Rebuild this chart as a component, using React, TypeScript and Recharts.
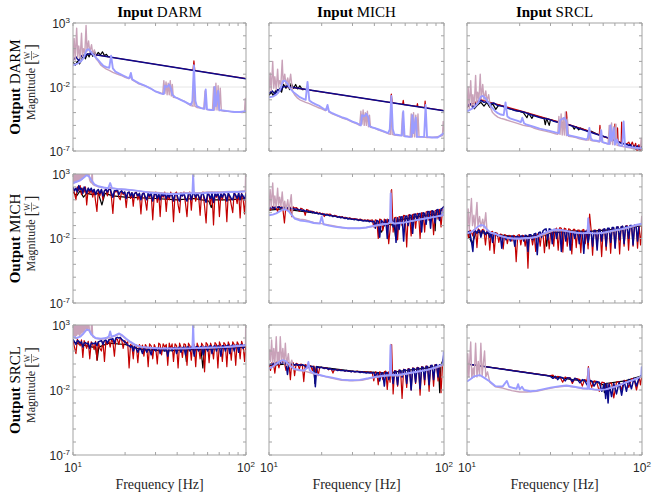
import React from 'react';
import { LineChart, Line, XAxis, YAxis, ReferenceLine } from 'recharts';

type Pt = [number, number]; // [frequency in Hz, log10 of magnitude]

// dense frequency grid used by the noisy red / navy traces (Hz)
const gridD = [
  10, 10.2, 10.4, 10.6, 10.8, 11.0, 11.2, 11.4, 11.6, 11.8,
  12.0, 12.25, 12.5, 12.75, 13.0, 13.25, 13.5, 13.75, 14.0, 14.3,
  14.6, 14.9, 15.2, 15.5, 15.8, 16.1, 16.4, 16.7, 17.0, 17.35,
  17.7, 18.05, 18.4, 18.75, 19.1, 19.5, 19.9, 20.3, 20.7, 21.1,
  21.5, 21.9, 22.3, 22.7, 23.2, 23.7, 24.2, 24.7, 25.2, 25.7,
  26.2, 26.7, 27.2, 27.7, 28.3, 28.9, 29.5, 30.1, 30.7, 31.3,
  31.9, 32.5, 33.2, 33.9, 34.6, 35.3, 36.0, 36.7, 37.4, 38.1,
  38.9, 39.7, 40.5, 41.3, 42.1, 42.9, 43.8, 44.7, 45.6, 46.5,
  47.4, 48.3, 49.2, 50.2, 51.2, 52.2, 53.2, 54.3, 55.4, 56.5,
  57.6, 58.8, 60.0, 61.2, 62.4, 63.6, 64.9, 66.2, 67.5, 68.8,
  70.2, 71.6, 73.0, 74.5, 76.0, 77.5, 79.0, 80.6, 82.2, 83.8,
  85.5, 87.2, 88.9, 90.7, 92.5, 94.3, 96.2, 98.1, 100];

const onGrid = (vals: number[]): Pt[] => gridD.map((f, i) => [f, vals[i]]);

const inputs = ['DARM', 'MICH', 'SRCL'];
const outputs = ['DARM', 'MICH', 'SRCL'];
const xTicks = [10, 20, 30, 40, 50, 60, 70, 80, 90, 100];
const yTicks = [1e-7, 1e-6, 1e-5, 1e-4, 1e-3, 1e-2, 1e-1, 1, 10, 100, 1000];

// ---------- Output DARM / Input DARM ----------
const r1c1Black: Pt[] = [[10, -0.05], [10.3, -0.3], [10.6, 0.0], [10.9, -0.2], [11.2, 0.1], [11.5, 0.5], [11.8, 0.2], [12.1, 0.6], [12.4, 0.35],
  [12.7, 0.75], [13.0, 0.4], [13.3, 0.8], [13.6, 0.45], [14.0, 0.7], [14.4, 0.5], [14.8, 0.75], [15.2, 0.45], [15.6, 0.55], [16, 0.36]];
const r1c1Red: Pt[] = [[12.4, 0.6], [49.4, -0.69], [50, 0.05], [50.6, -0.71], [100, -1.35]];
const r1c1Navy: Pt[] = [[10, 0.1], [10.4, 0.35], [10.8, 0.05], [11.2, 0.45], [11.6, 0.3], [12, 0.55], [12.4, 0.6], [100, -1.35]];
const r1c1Pink: Pt[] = [[10, 0.0], [10.15, 1.8], [10.3, 0.1], [10.5, 2.6], [10.65, 0.3], [10.8, 1.2], [11.0, 0.2], [11.2, 2.2], [11.35, 0.4],
  [11.5, 1.0], [11.7, 0.6], [11.9, 2.8], [12.05, 0.8], [12.3, 1.6], [12.5, 0.7], [12.8, 1.3], [13.0, 0.6], [13.3, 0.9], [13.6, 0.2],
  [14, 0.0], [14.5, -0.3], [15, -0.45], [15.6, -0.6], [16.2, -0.7], [17, -0.85], [18, -1.0], [19, -1.1], [20, -1.25], [21, -1.35],
  [21.5, -1.2], [22, -1.45], [23, -1.6], [24, -1.75], [26, -1.9], [28, -2.1], [30, -2.35], [32, -2.45], [33, -2.55], [33.5, -1.5],
  [34, -2.5], [34.5, -1.6], [35, -2.6], [35.5, -1.7], [36, -2.6], [36.5, -1.5], [37, -2.7], [37.5, -1.8], [38, -2.8], [40, -2.85],
  [42, -3.0], [44, -3.1], [46, -3.3], [48, -3.45], [49.4, -3.5], [50, -0.4], [50.6, -3.5], [52, -3.6], [55, -3.65], [57, -3.7],
  [58, -2.3], [59, -3.75], [62, -3.8], [64, -3.8], [65, -2.0], [66, -3.8], [67, -1.7], [68, -3.8], [69, -1.9], [70, -3.85],
  [71, -2.1], [72, -3.85], [75, -3.9], [80, -3.9], [85, -3.95], [90, -3.95], [95, -4.0], [98, -3.95], [99, -2.9], [100, -3.9]];
const r1c1Blue: Pt[] = [[10, -0.3], [10.5, -0.2], [11, -0.05], [11.5, 0.25], [12, 0.9], [12.3, 0.95], [12.7, 0.75], [13.2, 0.45], [13.8, 0.2],
  [14.4, -0.1], [15, -0.35], [15.6, -0.45], [16.2, -0.5], [16.6, 0.45], [17, -0.55], [17.6, -0.8], [18.5, -0.95], [19.5, -1.1],
  [20.5, -1.25], [21.2, -1.3], [21.6, -0.9], [22, -1.4], [23, -1.55], [24, -1.7], [26, -1.9], [28, -2.1], [30, -2.35], [32, -2.5],
  [33.5, -2.55], [34, -1.9], [35, -2.0], [36, -1.8], [37, -2.2], [37.5, -2.6], [39, -2.8], [42, -3.0], [45, -3.2], [48, -3.4],
  [49, -3.1], [50, -0.3], [51, -3.1], [52, -3.5], [55, -3.65], [57.5, -3.7], [58.5, -2.2], [59.5, -3.75], [63, -3.8], [65, -3.8],
  [66, -2.0], [67, -3.5], [69, -2.3], [70, -3.8], [75, -3.85], [80, -3.9], [86, -3.95], [92, -3.95], [100, -3.9]];

// ---------- Output DARM / Input MICH ----------
const r1c2Black: Pt[] = [[10, -2.65], [10.3, -2.4], [10.6, -2.7], [10.9, -2.3], [11.2, -2.5], [11.5, -2.1], [11.8, -2.4], [12.1, -1.8],
  [12.5, -2.1], [12.8, -1.75], [13.1, -2.2], [13.4, -1.7], [13.8, -2.1], [14.2, -1.8], [14.6, -2.15], [15, -1.9], [15.5, -2.2], [16, -2.18]];
const r1c2Red: Pt[] = [[12.4, -1.95], [49.4, -3.21], [50, -2.55], [50.6, -3.23], [58, -3.35], [58.5, -3.05], [59, -3.37], [70, -3.52],
  [70.5, -3.3], [71, -3.53], [77.5, -3.61], [78, -3.1], [78.5, -3.62], [100, -3.85]];
const r1c2Navy: Pt[] = [[10, -2.5], [10.4, -2.3], [10.8, -2.55], [11.2, -2.2], [11.6, -2.3], [12, -2.0], [12.4, -1.95], [100, -3.85]];
const r1c2Pink: Pt[] = [[10, -2.4], [10.15, -0.9], [10.3, -2.3], [10.5, 0.0], [10.65, -2.1], [10.8, -1.2], [11.0, -2.2], [11.2, -0.6],
  [11.35, -2.0], [11.5, -1.5], [11.7, -1.8], [11.9, 0.1], [12.05, -1.7], [12.3, -1.0], [12.5, -1.8], [12.8, -1.3], [13.0, -1.9],
  [13.3, -1.0], [13.6, -2.3], [14, -2.6], [14.5, -2.85], [15, -3.0], [15.6, -3.1], [16.2, -3.2], [17, -3.3], [18, -3.45], [19, -3.6],
  [20, -3.7], [21, -3.85], [21.5, -3.5], [22, -3.95], [23, -4.1], [24, -4.2], [26, -4.4], [28, -4.55], [30, -4.75], [32, -4.9],
  [33, -5.0], [33.5, -3.9], [34, -4.9], [34.5, -3.8], [35, -5.0], [35.5, -4.0], [36, -5.0], [36.5, -3.9], [37, -5.1], [37.5, -4.2],
  [38, -5.15], [40, -5.2], [42, -5.35], [44, -5.45], [46, -5.55], [48, -5.65], [49.4, -5.7], [50, -2.9], [50.6, -5.7], [52, -5.75],
  [55, -5.8], [57, -5.8], [58, -4.0], [59, -5.85], [62, -5.85], [64, -5.9], [65, -4.1], [66, -5.9], [67, -4.0], [68, -5.9], [69, -4.2],
  [70, -5.9], [71, -4.1], [72, -5.9], [75, -5.9], [80, -5.95], [85, -5.95], [90, -5.9], [95, -5.85], [98, -5.8], [99, -4.7], [100, -5.5]];
const r1c2Blue: Pt[] = [[10, -2.8], [10.5, -2.75], [11, -2.6], [11.5, -2.3], [12, -1.55], [12.3, -1.5], [12.7, -1.7], [13.2, -2.1],
  [13.8, -2.4], [14.4, -2.6], [15, -2.8], [15.6, -2.9], [16.2, -3.0], [16.6, -1.6], [17, -3.05], [17.6, -3.2], [18.5, -3.35],
  [19.5, -3.5], [20.5, -3.7], [21.2, -3.8], [21.6, -3.4], [22, -3.9], [23, -4.05], [24, -4.15], [26, -4.35], [28, -4.5], [30, -4.7],
  [32, -4.85], [33.5, -5.0], [34, -4.2], [35, -4.3], [36, -4.1], [37, -4.4], [37.5, -5.05], [39, -5.15], [42, -5.3], [45, -5.45],
  [48, -5.6], [49, -5.3], [50, -2.7], [51, -5.3], [52, -5.7], [55, -5.75], [57.5, -5.8], [58.5, -3.9], [59.5, -5.85], [63, -5.9],
  [65, -5.9], [66, -4.2], [67, -5.6], [69, -4.4], [70, -5.9], [77, -5.9], [78.5, -3.4], [80, -5.9], [86, -5.95], [92, -5.95], [100, -5.6]];

// ---------- Output DARM / Input SRCL ----------
const r1c3Black: Pt[] = [[10, -3.6], [10.5, -3.3], [11, -3.7], [11.5, -3.4], [12, -3.2], [12.5, -3.5], [13, -3.2], [13.5, -3.6], [14, -3.3],
  [14.6, -3.75], [15.2, -3.4], [16, -3.5], [18, -3.75], [20, -3.9], [21, -4.0], [22, -4.4], [22.5, -4.05], [23.5, -4.45], [24, -4.2],
  [26, -4.35], [27.5, -4.4], [28, -4.95], [28.5, -4.45], [29.5, -5.0], [30, -4.55], [33, -4.75], [37, -4.9], [40, -5.05], [41, -5.3],
  [42, -5.1], [43.5, -5.35], [44.5, -5.2], [48, -5.4], [50, -5.55], [51, -5.45], [55, -5.65], [60, -5.85], [70, -6.2], [80, -6.45]];
const r1c3Red: Pt[] = [[10, -3.5], [12, -3.0], [20, -3.85], [30, -4.55], [36.5, -4.85], [37, -3.95], [37.5, -4.9], [50, -5.45], [57, -5.75],
  [57.5, -5.0], [58, -5.8], [69.5, -6.15], [70, -4.9], [70.5, -6.15], [72, -6.2], [72.5, -5.2], [73, -6.25], [76, -6.35], [76.5, -4.75],
  [77, -6.4], [82, -6.45], [84, -6.3], [86, -6.6], [88, -6.3], [90, -6.7], [92, -6.4], [94, -7.2], [96, -6.5], [98, -7.2], [100, -6.6]];
const r1c3Navy: Pt[] = [[10, -3.5], [10.4, -3.3], [10.8, -3.6], [11.2, -3.3], [11.6, -3.2], [12, -3.05], [12.5, -3.2], [13, -3.15],
  [13.6, -3.3], [14.2, -3.25], [15, -3.45], [16, -3.5], [17, -3.65], [18, -3.75], [19, -3.85], [20, -3.9], [21.5, -4.0], [23, -4.15],
  [25, -4.3], [27, -4.45], [29, -4.5], [31, -4.65], [33, -4.75], [35, -4.85], [37, -4.9], [40, -5.05], [43, -5.2], [46, -5.35],
  [50, -5.5], [54, -5.65], [58, -5.8], [62, -5.9], [66, -6.05], [70, -6.2], [75, -6.35], [80, -6.45], [84, -6.55], [86, -6.5],
  [88, -6.8], [90, -6.6], [92, -6.85], [94, -6.6], [96, -6.9], [98, -6.6], [100, -6.85]];
const r1c3Pink: Pt[] = [[10, -3.8], [10.15, -2.0], [10.3, -3.7], [10.5, -1.5], [10.65, -3.5], [10.8, -2.6], [11.0, -3.5], [11.2, -1.1],
  [11.35, -3.3], [11.5, -2.4], [11.7, -3.0], [11.9, -1.0], [12.05, -2.9], [12.3, -1.8], [12.5, -3.0], [12.8, -2.3], [13.0, -3.1],
  [13.3, -2.6], [13.6, -3.6], [14, -4.0], [14.5, -4.2], [15, -4.35], [15.6, -4.45], [16.2, -4.5], [17, -4.6], [18, -4.7], [19, -4.8],
  [20, -4.9], [21, -5.0], [22, -5.05], [23, -5.1], [24, -5.2], [26, -5.35], [28, -5.45], [30, -5.55], [32, -5.65], [33, -5.7],
  [33.5, -4.3], [34, -5.7], [34.5, -4.1], [35, -5.75], [35.5, -4.4], [36, -5.75], [36.5, -3.95], [37, -5.8], [37.5, -4.5], [38, -5.85],
  [40, -5.9], [42, -5.95], [44, -6.05], [46, -6.1], [48, -6.15], [49.4, -6.15], [50, -5.5], [50.6, -6.15], [52, -6.2], [55, -6.25],
  [57, -6.3], [58, -5.3], [59, -6.3], [62, -6.4], [64, -6.45], [65, -5.0], [66, -6.45], [67, -4.8], [68, -6.5], [69, -5.1], [70, -6.5],
  [71, -4.9], [72, -6.55], [75, -6.6], [80, -6.7], [85, -6.75], [90, -6.8], [95, -6.85], [98, -6.8], [99, -6.0], [100, -6.6]];
const r1c3Blue: Pt[] = [[10, -3.9], [10.5, -3.75], [11, -3.6], [11.5, -3.3], [12, -2.75], [12.3, -2.7], [12.7, -2.85], [13.2, -3.2],
  [13.8, -3.55], [14.4, -3.85], [15, -4.05], [15.6, -4.15], [16.2, -4.2], [16.6, -3.2], [17, -4.3], [17.6, -4.45], [18.5, -4.55],
  [19.5, -4.65], [20.3, -4.75], [20.7, -4.4], [21.2, -4.85], [22, -4.95], [24, -5.1], [26, -5.25], [28, -5.35], [30, -5.45],
  [32, -5.55], [33.5, -5.6], [34, -4.6], [35, -4.5], [36, -4.4], [37, -4.7], [37.5, -5.75], [39, -5.8], [42, -5.9], [45, -6.0],
  [48, -6.1], [49, -6.0], [50, -5.2], [51, -6.0], [52, -6.15], [55, -6.2], [57.5, -6.25], [58.5, -5.4], [59.5, -6.3], [63, -6.4],
  [65, -6.45], [66, -5.0], [67, -6.2], [69, -5.2], [70, -6.5], [72, -6.1], [74, -6.55], [77, -6.6], [78.5, -4.7], [80, -6.65],
  [86, -6.7], [92, -6.75], [100, -6.8]];

// ---------- Output MICH / Input DARM ----------
const r2c1Black: Pt[] = [[10, 1.6], [10.5, 1.3], [11, 1.7], [11.5, 1.2], [12, 1.5], [13, 1.4], [14, 1.5], [14.7, 0.6], [15.3, 1.5],
  [17, 1.3], [20, 1.2], [30, 1.1], [40, 1.0], [50, 1.1], [61, 0.9], [63, 0.4], [65, 1.0], [80, 1.0], [100, 1.1]];
const r2c1Red = onGrid([
  1.9, 1.5, 1.0, 2.0, 1.7, 2.1, 1.4, 1.9, 1.6, 2.0,
  0.6, 1.9, 1.5, 1.8, 1.2, 1.8, 0.9, 0.1, 1.7, 1.3,
  1.8, 1.0, 1.7, 1.85, 1.3, 1.8, 1.9, 1.1, -0.05, 1.7,
  1.6, 1.75, 1.2, 1.0, 1.7, 1.4, 1.6, 0.4, 1.5, 1.6,
  1.1, 1.55, 0.5, 1.5, 1.6, 1.0, 1.5, -0.1, 1.45, 1.6,
  0.9, 0.2, 1.5, 1.2, 1.55, -0.55, 1.4, 1.6, 0.8, 1.5,
  -0.3, 1.5, 1.2, 1.6, 0.1, 1.5, 1.0, 1.6, 1.3, -0.7,
  1.5, 1.6, 0.6, 0.0, 1.55, 1.3, 1.6, 0.7, -0.3, 1.5,
  1.6, 0.2, 1.5, 1.6, 0.9, 1.55, 1.3, -0.2, 1.5, 1.6,
  0.5, -0.8, 1.55, 1.4, 0.6, 1.6, -0.95, 1.5, 1.2, 1.6,
  -0.3, 1.5, 1.0, 1.6, 1.3, -0.7, 1.55, 1.2, 0.6, 0.0,
  1.6, 1.3, 0.7, 1.6, -0.4, 1.5, 1.1, -0.1, 1.6]);
const r2c1Navy = onGrid([
  2.0, 1.7, 1.9, 1.6, 2.1, 1.8, 1.9, 1.5, 2.0, 1.8,
  1.5, 1.9, 1.7, 1.9, 1.6, 1.8, 1.4, 1.7, 1.8, 1.5,
  1.8, 1.3, 1.7, 1.8, 1.6, 1.8, 1.9, 1.5, 1.2, 1.7,
  1.7, 1.8, 1.4, 1.6, 1.7, 1.5, 1.6, 1.1, 1.55, 1.6,
  1.3, 1.55, 1.2, 1.5, 1.55, 1.3, 1.5, 1.0, 1.45, 1.5,
  1.2, 1.0, 1.5, 1.3, 1.5, 0.9, 1.4, 1.5, 1.1, 1.45,
  1.0, 1.5, 1.3, 1.5, 1.1, 1.45, 1.2, 1.5, 1.35, 0.9,
  1.45, 1.5, 1.1, 0.9, 1.5, 1.3, 1.5, 1.1, 0.9, 1.45,
  1.5, 1.0, 1.45, 1.5, 1.2, 1.5, 1.3, 1.0, 1.45, 1.5,
  1.1, 0.8, 1.5, 1.35, 1.1, 1.5, 0.8, 1.45, 1.3, 1.5,
  1.0, 1.45, 1.2, 1.5, 1.35, 0.9, 1.5, 1.3, 1.1, 1.0,
  1.5, 1.35, 1.1, 1.5, 1.0, 1.45, 1.3, 1.0, 1.5]);
const r2c1Pink: Pt[] = [[10, 2.2], [10.08, 3.5], [10.16, 2.3], [10.24, 3.5], [10.32, 2.4], [10.4, 3.5], [10.5, 2.4], [10.6, 3.5],
  [10.7, 2.5], [10.8, 3.5], [10.9, 2.5], [11.0, 3.5], [11.1, 2.6], [11.2, 3.5], [11.3, 2.6], [11.4, 3.5], [11.5, 2.7], [11.6, 3.5],
  [11.7, 2.8], [11.8, 3.5], [11.9, 2.9], [12.0, 3.5], [12.15, 2.9], [12.3, 3.5], [12.45, 2.6], [12.6, 2.4], [12.8, 2.3], [12.9, 3.5],
  [13.0, 2.2], [13.4, 2.1], [14, 2.0], [15, 1.95], [16, 1.9], [17, 1.9], [18, 1.85], [20, 1.8], [22, 1.75], [25, 1.65], [28, 1.6],
  [32, 1.55], [36, 1.5], [40, 1.5], [45, 1.55], [49.2, 1.55], [49.5, 3.5], [49.8, 1.55], [55, 1.55], [60, 1.6], [70, 1.6], [80, 1.65],
  [90, 1.65], [99, 1.7], [99.6, 3.2], [100, 1.7]];
const r2c1Blue: Pt[] = [[10, 2.3], [10.5, 2.4], [11, 2.5], [11.5, 2.7], [12, 2.92], [12.4, 2.8], [12.8, 2.5], [13.3, 2.2], [14, 2.05],
  [15, 1.95], [16, 1.9], [16.4, 2.3], [16.8, 1.9], [18, 1.85], [20, 1.8], [22, 1.75], [25, 1.65], [28, 1.55], [32, 1.5], [36, 1.45],
  [40, 1.45], [45, 1.5], [49, 1.5], [49.5, 2.9], [50, 1.5], [55, 1.5], [60, 1.55], [70, 1.55], [80, 1.6], [90, 1.6], [100, 1.65]];

// ---------- Output MICH / Input MICH ----------
const r2c2Black: Pt[] = [[10, 0.2], [12, 0.3], [20, -0.1], [30, -0.5], [40, -0.7], [44, -1.5], [46, -0.8], [52, -1.0], [53, -2.0],
  [54, -0.6], [70, -0.3], [88, -0.1], [89, -1.4], [90, 0.0], [100, 0.3]];
const r2c2Red = onGrid([
  0.4, 0.2, 0.5, 0.3, 0.45, 0.35, 0.1, 0.5, 0.4, 0.45,
  0.3, -0.8, 0.55, 0.2, 0.5, 0.4, -0.3, 0.45, 0.35, 0.4,
  0.3, 0.1, 0.35, 0.3, 0.2, -0.2, 0.25, 0.2, 0.15, 0.1,
  0.1, 0.05, 0.0, 0.05, -0.05, 0.0, -0.1, -0.05, -0.3, -0.1,
  -0.1, -0.15, -0.1, -0.2, -0.3, -0.2, -0.25, -0.3, -0.3, -0.35,
  -0.3, -0.4, -0.35, -0.4, -0.45, -0.4, -0.45, -0.5, -0.45, -0.5,
  -0.5, -0.55, -0.5, -0.55, -0.6, -0.55, -0.6, -0.55, -0.6, -0.6,
  -0.55, -1.1, -0.55, -0.6, -2.0, -0.5, -0.55, -1.4, -0.5, -0.9,
  -0.5, -2.4, -1.3, 1.8, -1.5, -0.4, -0.35, -2.1, -0.3, -0.35,
  -1.0, -0.2, -0.25, -2.65, -0.2, -0.15, -1.8, -0.15, -0.1, -1.2,
  -0.05, -0.1, -2.0, 0.0, -0.05, -1.5, 0.05, 0.1, -0.6, 0.1,
  0.15, -1.7, 0.15, 0.2, -0.5, 0.25, -1.1, 0.3, 0.5]);
const r2c2Navy = onGrid([
  0.3, 0.4, 0.35, 0.45, 0.3, 0.5, 0.4, 0.45, 0.35, 0.4,
  0.4, 0.45, 0.35, 0.4, 0.3, 0.35, 0.3, 0.35, 0.25, 0.3,
  0.25, 0.2, 0.25, 0.15, 0.2, 0.1, 0.15, 0.1, 0.05, 0.1,
  0.0, 0.05, -0.05, 0.0, -0.1, -0.05, -0.1, -0.15, -0.1, -0.2,
  -0.15, -0.2, -0.25, -0.2, -0.3, -0.25, -0.3, -0.35, -0.3, -0.4,
  -0.35, -0.4, -0.45, -0.4, -0.5, -0.45, -0.5, -0.5, -0.55, -0.5,
  -0.55, -0.6, -0.55, -0.6, -0.65, -0.6, -0.65, -0.6, -0.7, -0.65,
  -0.7, -0.65, -1.2, -0.6, -0.65, -1.9, -0.6, -0.7, -1.0, -0.55,
  -2.0, -0.55, -0.6, -0.5, -1.1, -0.45, -2.3, -0.4, -1.3, -0.35,
  -0.3, -2.2, -0.3, -0.25, -1.0, -0.2, -0.2, -1.6, -0.15, -0.1,
  -0.6, -0.1, -0.05, -1.5, 0.0, -0.05, -0.9, 0.05, 0.1, -1.2,
  0.15, 0.1, -0.8, 0.2, 0.25, -0.6, 0.3, 0.35, 0.5]);
const r2c2Pink: Pt[] = [[10, 0.3], [10.15, 1.8], [10.3, 0.4], [10.5, 2.3], [10.65, 0.5], [10.8, 1.3], [11.0, 0.4], [11.2, 1.9],
  [11.35, 0.6], [11.5, 1.2], [11.7, 0.5], [11.9, 1.6], [12.1, 0.3], [12.3, 0.9], [12.5, 0.2], [12.8, 1.0], [13.0, 0.1], [13.4, 1.4],
  [13.6, -0.2], [14, -0.4], [15, -0.5], [16, -0.55], [17, -0.65], [18, -0.75], [20, -0.85], [22, -0.95], [24, -1.05], [26, -1.15],
  [28, -1.2], [30, -1.2], [33, -1.2], [36, -1.15], [40, -1.05], [44, -0.95], [48, -0.85], [49.3, -0.8], [49.6, 1.7], [49.9, -0.8],
  [52, -0.85], [56, -0.8], [60, -0.75], [68, -0.6], [78, -0.45], [90, -0.3], [100, -0.2]];
const r2c2Blue: Pt[] = [[10, -0.2], [10.5, -0.15], [11, -0.05], [11.5, 0.1], [12, 0.25], [12.5, 0.25], [13, 0.1], [13.5, -0.2],
  [14, -0.45], [15, -0.6], [16, -0.65], [17, -0.7], [18, -0.8], [19.5, -0.85], [20, -0.3], [20.5, -0.9], [22, -1.0], [24, -1.1],
  [26, -1.15], [28, -1.2], [30, -1.2], [33, -1.2], [36, -1.15], [40, -1.0], [44, -0.9], [48, -0.85], [49.2, -0.7], [49.6, 1.5],
  [50, -0.7], [52, -0.85], [56, -0.8], [60, -0.75], [68, -0.6], [78, -0.45], [90, -0.3], [98, -0.2], [99.5, 0.3], [100, 0.2]];

// ---------- Output MICH / Input SRCL ----------
const r2c3Black: Pt[] = [[10, -1.5], [10.7, -2.4], [11.3, -1.5], [15, -1.7], [20, -1.9], [28, -1.7], [28.5, -2.6], [29, -1.6], [40, -1.4],
  [48.5, -1.45], [49.3, -2.5], [50, -1.45], [70, -1.3], [100, -1.0]];
const r2c3Red = onGrid([
  -1.4, -2.0, -1.35, -1.5, -1.8, -1.3, -1.4, -2.7, -1.25, -1.35,
  -1.6, -1.3, -1.35, -2.5, -1.4, -1.45, -2.9, -1.5, -1.45, -3.15,
  -1.55, -1.6, -2.3, -1.65, -1.7, -2.8, -1.7, -1.75, -2.4, -1.75,
  -1.8, -2.2, -1.75, -1.8, -3.8, -1.75, -1.7, -2.5, -1.75, -1.8,
  -2.6, -1.75, -4.3, -1.7, -1.75, -2.5, -1.7, -3.0, -1.65, -1.7,
  -2.6, -1.6, -1.65, -3.1, -1.55, -1.5, -2.8, -1.45, -1.4, -2.6,
  -1.3, -1.2, -2.9, -1.15, -1.2, -3.05, -1.2, -1.25, -2.6, -1.25,
  -1.3, -3.2, -1.3, -1.3, -2.7, -1.35, -1.35, -3.1, -1.35, -1.3,
  -2.4, -1.35, -2.8, -0.1, -1.35, -3.3, -1.35, -1.35, -2.6, -1.3,
  -1.3, -3.4, -1.3, -1.3, -2.9, -1.25, -1.25, -3.15, -1.2, -1.15,
  -2.7, -1.15, -1.1, -3.2, -1.1, -1.05, -2.6, -1.05, -1.0, -2.9,
  -1.0, -1.0, -2.6, -0.95, -0.95, -2.75, -0.95, -2.5, -0.95]);
const r2c3Navy = onGrid([
  -1.5, -1.45, -1.6, -2.2, -3.0, -1.4, -1.45, -1.6, -1.35, -1.4,
  -1.9, -1.4, -1.45, -1.7, -1.5, -1.55, -1.9, -1.55, -2.3, -1.6,
  -1.6, -1.8, -1.7, -1.75, -2.75, -1.8, -1.8, -2.1, -1.85, -1.85,
  -2.2, -1.8, -1.85, -2.6, -1.85, -1.85, -2.0, -1.8, -1.8, -2.2,
  -1.75, -1.8, -3.0, -1.7, -1.7, -2.1, -1.65, -1.6, -3.25, -1.55,
  -1.5, -1.9, -1.4, -1.3, -1.25, -2.1, -1.25, -1.3, -2.4, -1.3,
  -1.3, -2.0, -1.3, -1.35, -3.0, -1.35, -1.4, -2.2, -1.4, -1.45,
  -2.9, -1.45, -1.45, -2.0, -1.45, -1.45, -2.4, -1.5, -1.5, -3.15,
  -1.45, -1.45, -2.3, -1.45, -1.45, -2.6, -1.4, -1.4, -2.9, -1.35,
  -1.35, -2.2, -1.3, -1.25, -2.6, -1.2, -1.2, -2.3, -1.15, -1.15,
  -2.75, -1.1, -1.1, -2.1, -1.1, -1.05, -2.4, -1.05, -1.05, -2.0,
  -1.0, -1.0, -2.5, -1.0, -0.95, -2.2, -0.95, -0.9, -0.95]);
const r2c3Pink: Pt[] = [[10, -1.5], [10.15, 0.3], [10.3, -1.3], [10.6, 1.1], [10.75, -1.0], [10.95, -0.2], [11.1, -1.2], [11.4, 0.8],
  [11.55, -1.0], [11.8, -0.3], [12, -1.1], [12.3, -0.5], [12.5, -1.2], [12.8, 0.0], [13.0, -1.3], [13.5, -1.5], [14.5, -1.65],
  [16, -1.85], [18, -2.0], [20, -2.05], [22, -2.0], [25, -1.9], [28, -1.65], [31, -1.4], [35, -1.4], [40, -1.5], [46, -1.6],
  [49, -1.6], [49.4, -0.4], [49.8, -1.6], [55, -1.6], [62, -1.55], [70, -1.4], [80, -1.25], [90, -1.05], [99, -0.9], [99.6, -0.3], [100, -0.9]];
const r2c3Blue: Pt[] = [[10, -1.6], [10.5, -1.5], [11, -1.35], [11.5, -1.1], [12, -0.95], [12.5, -1.0], [13, -1.3], [13.6, -1.55],
  [14.5, -1.65], [15.5, -1.8], [17, -1.95], [18.5, -2.0], [20, -2.0], [21.5, -1.95], [23, -1.95], [25, -1.85], [27, -1.65], [29, -1.45],
  [32, -1.3], [35, -1.35], [38, -1.45], [42, -1.55], [46, -1.6], [48.8, -1.55], [49.3, -0.45], [49.8, -1.55], [52, -1.6], [56, -1.6],
  [60, -1.55], [65, -1.45], [70, -1.35], [77, -1.25], [85, -1.1], [92, -0.95], [100, -0.85]];

// ---------- Output SRCL / Input DARM ----------
const r3c1Black: Pt[] = [[10, 1.7], [11, 1.5], [13, 1.3], [13.5, 1.3], [13.8, 0.3], [14.1, 1.3], [16, 1.6], [20, 1.5], [25, 1.1],
  [35, 1.0], [44.5, 1.1], [45.2, 0.2], [46, 1.1], [55, 1.1], [56.3, -0.3], [57.5, 1.1], [70, 1.2], [100, 1.3]];
const r3c1Red = onGrid([
  1.8, 1.3, 0.8, 1.9, 1.6, 1.4, 1.85, 0.5, 1.8, 1.5,
  1.2, 1.75, 0.4, 1.7, 1.5, 1.1, 1.75, 0.3, 1.7, 1.2,
  1.0, 1.75, 0.2, 1.8, 1.5, 1.85, 1.3, 1.9, 1.7, 0.6,
  1.95, 1.9, 1.5, 2.0, 1.9, 1.2, 1.8, 1.6, 1.7, -0.3,
  1.5, 1.4, 0.4, 1.5, 1.45, 0.1, 1.5, 1.2, 1.45, 0.6,
  1.5, 1.3, -0.2, 1.55, 1.4, 0.4, 1.5, 1.2, 0.0, 1.6,
  1.5, 0.7, 1.55, 1.3, 1.5, -0.1, 1.6, 1.2, 1.55, 0.2,
  1.55, 1.4, -0.3, 1.6, 1.3, 0.5, 1.55, 1.5, -0.1, 1.6,
  1.4, 0.3, 1.65, 1.5, -0.2, 1.6, 1.3, 0.4, 1.6, 1.4,
  -0.6, 1.65, 1.5, 0.1, 1.6, 1.3, 0.4, 1.65, 1.5, -0.3,
  1.7, 1.4, 0.2, 1.65, 1.5, -0.2, 1.7, 1.4, 0.3, 1.7,
  1.5, -0.1, 1.7, 1.5, 0.4, 1.75, 1.4, 0.2, 1.75]);
const r3c1Navy = onGrid([
  1.9, 1.7, 1.5, 1.8, 1.75, 1.6, 1.7, 1.3, 1.6, 1.65,
  1.55, 1.6, 1.2, 1.6, 1.6, 1.55, 1.65, 1.4, 1.7, 1.75,
  1.8, 1.5, 1.8, 1.85, 1.6, 1.85, 1.9, 1.9, 1.95, 1.6,
  2.0, 2.05, 2.0, 2.05, 1.9, 1.8, 1.7, 1.6, 1.45, 1.4,
  1.3, 1.4, 1.0, 1.35, 1.2, 0.9, 1.2, 1.15, 0.8, 1.2,
  1.15, 0.9, 1.2, 1.1, 0.7, 1.2, 1.15, 1.0, 1.2, 1.25,
  0.8, 1.2, 1.2, 1.0, 1.25, 0.6, 1.25, 1.2, 1.0, 1.25,
  1.25, 0.8, 1.25, 1.3, 0.9, 1.25, 1.3, 0.7, 1.3, 1.3,
  1.0, 1.3, 1.3, 0.6, 1.3, 1.35, 1.0, 1.3, 1.35, 0.7,
  1.3, 1.35, 1.0, 1.35, 1.4, 0.8, 1.35, 1.4, 1.0, 1.4,
  1.35, 0.6, 1.4, 1.4, 1.0, 1.4, 1.45, 0.8, 1.4, 1.45,
  1.0, 1.45, 1.45, 0.9, 1.45, 1.5, 1.2, 1.45, 1.5]);
const r3c1Pink: Pt[] = [[10, 2.1], [10.08, 3.5], [10.16, 2.2], [10.24, 3.5], [10.32, 2.1], [10.4, 3.5], [10.5, 2.2], [10.6, 3.5],
  [10.7, 2.3], [10.8, 3.5], [10.9, 2.2], [11.0, 3.5], [11.1, 2.3], [11.2, 3.5], [11.3, 2.4], [11.4, 3.5], [11.5, 2.5], [11.6, 3.5],
  [11.7, 2.6], [11.8, 3.5], [11.9, 2.7], [12.0, 3.5], [12.15, 2.6], [12.3, 3.5], [12.45, 2.5], [12.7, 2.3], [12.85, 3.5], [13.0, 2.1],
  [13.6, 1.95], [14.5, 1.9], [15.5, 1.95], [16.5, 2.05], [17.5, 2.15], [18.5, 2.3], [19.3, 2.15], [20.3, 1.9], [21.5, 1.65], [23, 1.4],
  [25, 1.28], [28, 1.22], [32, 1.18], [38, 1.18], [44, 1.18], [49.1, 1.2], [49.4, 3.5], [49.7, 1.2], [56, 1.22], [65, 1.25], [75, 1.28],
  [88, 1.35], [99.3, 1.4], [99.7, 3.5], [100, 1.45]];
const r3c1Blue: Pt[] = [[10, 2.1], [10.5, 2.0], [11, 2.1], [11.5, 2.35], [12, 2.65], [12.4, 2.6], [12.8, 2.25], [13.5, 2.0], [14.5, 1.95],
  [15.5, 2.0], [16.1, 2.1], [16.4, 2.5], [16.7, 2.1], [17.5, 2.2], [18.5, 2.35], [19.3, 2.2], [20.3, 1.95], [21.5, 1.7], [23, 1.45],
  [25, 1.32], [28, 1.25], [32, 1.2], [38, 1.2], [44, 1.2], [49, 1.22], [49.5, 3.0], [50, 1.22], [56, 1.25], [65, 1.28], [75, 1.3],
  [88, 1.38], [100, 1.45]];

// ---------- Output SRCL / Input MICH ----------
const r3c2Black: Pt[] = [[10, -0.1], [13, 0.0], [18, -0.2], [18.3, -1.5], [18.6, -0.2], [30, -0.55], [48, -0.7], [60, -0.5], [93, -0.2],
  [94.5, -2.2], [96, -0.1], [100, 0.5]];
const r3c2Red = onGrid([
  -0.05, -0.5, 0.1, 0.05, -0.7, 0.15, 0.1, -0.3, 0.2, 0.15,
  0.2, 0.1, -0.5, 0.15, 0.1, -1.2, 0.15, 0.1, -0.9, 0.05,
  0.0, -0.4, 0.0, -0.05, -1.35, -0.05, -0.1, -0.3, -0.1, -0.15,
  -0.5, -0.15, -0.6, -0.2, -0.9, -0.25, -0.25, -0.3, -0.3, -0.35,
  -0.3, -0.45, -0.35, -0.4, -0.7, -0.4, -0.45, -0.45, -0.5, -0.45,
  -0.5, -0.5, -0.55, -0.5, -0.55, -0.55, -0.6, -0.55, -0.6, -0.6,
  -0.55, -0.6, -0.6, -0.65, -0.6, -0.65, -0.6, -0.65, -0.65, -0.6,
  -0.65, -1.3, -0.6, -0.65, -1.6, -0.6, -0.65, -1.2, -0.6, -0.55,
  -1.95, -0.6, -1.4, 1.5, -2.3, -0.5, -0.55, -1.7, -0.45, -0.5,
  -2.65, -0.4, -0.45, -1.8, -0.35, -0.4, -2.0, -0.3, -0.35, -1.5,
  -0.25, -0.3, -2.4, -0.2, -0.25, -1.6, -0.15, -0.2, -2.1, -0.1,
  -0.15, -1.7, -0.05, -0.1, -1.3, -0.05, -2.2, 0.0, -0.05]);
const r3c2Navy = onGrid([
  -0.1, 0.0, -0.05, 0.05, 0.0, 0.1, 0.05, 0.0, 0.1, 0.05,
  0.1, 0.05, 0.1, -0.8, 0.05, 0.0, 0.05, 0.0, -0.1, 0.0,
  -0.1, -0.05, -0.1, -0.05, -0.1, -0.15, -0.3, -0.1, -0.15, -0.2,
  -0.2, -0.25, -1.75, -0.2, -0.25, -0.3, -0.25, -0.3, -0.35, -0.3,
  -0.35, -0.4, -0.35, -0.4, -0.45, -0.4, -0.45, -0.5, -0.45, -0.5,
  -0.5, -0.5, -0.55, -0.5, -0.55, -0.55, -0.6, -0.55, -0.6, -0.6,
  -0.6, -0.6, -0.65, -0.6, -0.65, -0.65, -0.7, -0.65, -0.7, -0.7,
  -0.7, -0.65, -1.0, -0.7, -0.7, -1.3, -0.7, -0.7, -1.7, -0.65,
  -0.65, -1.2, -0.6, -0.6, -1.5, -0.55, -0.55, -1.6, -0.5, -0.5,
  -1.0, -0.45, -0.45, -1.5, -0.4, -0.4, -2.0, -0.35, -0.35, -1.4,
  -0.3, -0.3, -1.9, -0.25, -0.25, -1.2, -0.2, -0.2, -1.6, -0.15,
  -0.1, -1.2, -0.1, -0.05, -1.0, -0.05, -0.1, 0.0, 0.85]);
const r3c2Pink: Pt[] = [[10, 0.3], [10.1, 1.1], [10.2, 0.2], [10.35, 1.85], [10.5, 0.1], [10.65, 1.2], [10.8, 0.0], [11.0, 2.1],
  [11.15, 0.1], [11.3, 0.9], [11.45, 0.0], [11.6, 2.1], [11.8, 0.1], [12.0, 1.2], [12.2, 0.0], [12.4, 1.6], [12.6, -0.1], [12.9, 0.8],
  [13.1, -0.2], [13.5, 0.3], [13.8, -0.4], [14.8, -0.5], [16, -0.55], [18, -0.75], [20, -0.9], [23, -1.1], [26, -1.25], [30, -1.3],
  [34, -1.25], [38, -1.1], [42, -1.0], [47, -0.9], [49.3, -0.9], [49.6, 1.5], [49.9, -0.9], [55, -0.9], [62, -0.75], [70, -0.6],
  [80, -0.45], [90, -0.3], [100, -0.1]];
const r3c2Blue: Pt[] = [[10, -0.35], [10.5, -0.2], [11, 0.0], [11.5, 0.2], [12, 0.3], [12.5, 0.2], [13, -0.05], [13.8, -0.35],
  [14.8, -0.45], [15.8, -0.5], [16.5, -0.3], [16.8, 0.15], [17.1, -0.5], [18, -0.7], [19.5, -0.85], [21, -0.95], [23, -1.05],
  [26, -1.2], [29, -1.25], [33, -1.22], [37, -1.1], [41, -0.97], [45, -0.9], [49, -0.85], [49.5, 1.45], [50, -0.85], [54, -0.85],
  [60, -0.75], [70, -0.6], [80, -0.45], [90, -0.25], [99, 0.0], [99.6, 0.9], [100, 0.05]];

// ---------- Output SRCL / Input SRCL ----------
const r3c3Black: Pt[] = [[10, 0.0], [29, -0.9], [40, -1.2], [55, -1.4], [60, -1.6], [61, -2.2], [62, -1.5], [80, -1.3], [100, -0.9]];
const r3c3Red: Pt[] = [[10, 0.0], [29, -0.9], [30, -0.9], [31, -0.85], [32, -1.1], [33, -0.95], [34, -1.0], [35.2, -1.4], [36.4, -1.0],
  [37.6, -1.1], [38.8, -1.05], [40, -1.5], [41.4, -1.1], [42.8, -1.15], [44.2, -1.2], [45.6, -1.7], [47, -1.2], [48.5, -1.3],
  [49.4, -0.2], [50.3, -1.3], [51.6, -1.8], [53.2, -1.3], [55, -1.35], [57, -2.1], [59, -1.4], [61, -1.45], [63, -2.3], [65, -1.5],
  [67, -1.45], [69, -2.6], [71.5, -1.4], [74, -1.35], [76.5, -2.0], [79, -1.25], [81.5, -1.3], [84, -1.8], [87, -1.15], [90, -1.1],
  [93, -2.0], [96.5, -1.0], [98, -1.6], [100, -0.9]];
const r3c3Navy: Pt[] = [[10, 0.0], [29, -0.9], [30, -0.95], [31, -1.1], [32, -0.95], [33, -1.2], [34, -1.0], [35.2, -1.05], [36.4, -1.3],
  [37.6, -1.05], [38.8, -1.1], [40, -1.35], [41.4, -1.1], [42.8, -1.2], [44.2, -1.45], [45.6, -1.2], [47, -1.25], [48.5, -1.6],
  [50, -1.25], [51.6, -1.3], [53.2, -1.7], [55, -1.35], [57, -1.4], [59, -2.1], [61, -1.5], [62, -2.65], [63, -1.5], [64, -3.0],
  [65, -1.55], [67, -2.5], [69, -1.5], [71.5, -2.3], [74, -1.4], [76.5, -2.4], [79, -1.3], [81.5, -2.1], [84, -1.2], [87, -1.9],
  [90, -1.1], [93, -1.7], [96.5, -1.0], [100, -0.85]];
const r3c3Pink: Pt[] = [[10, -1.2], [10.1, 0.8], [10.25, -1.0], [10.5, 1.7], [10.65, -1.1], [10.85, -0.3], [11.0, -1.0], [11.2, 1.6],
  [11.4, -1.0], [11.6, 0.2], [11.8, -0.9], [12.0, 1.6], [12.2, -0.9], [12.6, 1.0], [12.8, -1.0], [13.1, -0.6], [13.5, -1.4],
  [14.5, -1.75], [16, -1.85], [18, -2.05], [20, -2.15], [22, -2.15], [25, -2.1], [28, -1.95], [32, -1.8], [37, -1.7], [42, -1.8],
  [46, -1.9], [49.1, -1.9], [49.4, -0.5], [49.7, -1.9], [55, -2.0], [62, -1.95], [70, -1.75], [80, -1.45], [90, -1.2], [100, -0.95]];
const r3c3Blue: Pt[] = [[10, -1.35], [10.5, -1.15], [11, -0.95], [11.8, -0.85], [12.5, -1.05], [13.5, -1.35], [14.5, -1.7], [16, -1.72],
  [16.9, -1.3], [17.4, -1.75], [18.5, -1.85], [19.2, -1.9], [19.6, -1.55], [20, -1.95], [20.6, -1.75], [21.2, -2.0], [23, -2.1],
  [25, -2.05], [27, -1.95], [30, -1.82], [34, -1.7], [37, -1.65], [41, -1.75], [46, -1.87], [48.9, -1.9], [49.4, -0.35], [49.9, -1.9],
  [53, -1.95], [57, -1.98], [62, -1.95], [68, -1.8], [75, -1.6], [82, -1.4], [90, -1.2], [99, -0.97], [99.6, -0.25], [100, -0.9]];

type PanelSeries = { black: Pt[]; red: Pt[]; navy: Pt[]; pink: Pt[]; blue: Pt[] };

const panels: PanelSeries[][] = [
  [
    { black: r1c1Black, red: r1c1Red, navy: r1c1Navy, pink: r1c1Pink, blue: r1c1Blue },
    { black: r1c2Black, red: r1c2Red, navy: r1c2Navy, pink: r1c2Pink, blue: r1c2Blue },
    { black: r1c3Black, red: r1c3Red, navy: r1c3Navy, pink: r1c3Pink, blue: r1c3Blue },
  ],
  [
    { black: r2c1Black, red: r2c1Red, navy: r2c1Navy, pink: r2c1Pink, blue: r2c1Blue },
    { black: r2c2Black, red: r2c2Red, navy: r2c2Navy, pink: r2c2Pink, blue: r2c2Blue },
    { black: r2c3Black, red: r2c3Red, navy: r2c3Navy, pink: r2c3Pink, blue: r2c3Blue },
  ],
  [
    { black: r3c1Black, red: r3c1Red, navy: r3c1Navy, pink: r3c1Pink, blue: r3c1Blue },
    { black: r3c2Black, red: r3c2Red, navy: r3c2Navy, pink: r3c2Pink, blue: r3c2Blue },
    { black: r3c3Black, red: r3c3Red, navy: r3c3Navy, pink: r3c3Pink, blue: r3c3Blue },
  ],
];

const order = ['black', 'red', 'navy', 'pink', 'blue'] as const;
const colors = { black: '#000000', red: '#c30000', navy: '#0a0a8c', pink: '#c9a2b9', blue: '#9b9cff' };
const widths = { black: 1.2, red: 1.2, navy: 1.5, pink: 1.4, blue: 1.9 };

// one row per frequency, one column per series (magnitude, not log)
function buildTable(s: PanelSeries) {
  const rows = new Map<number, any>();
  order.forEach((k) => {
    s[k].forEach(([f, e]) => {
      const row = rows.get(f) ?? { f };
      row[k] = Math.pow(10, e);
      rows.set(f, row);
    });
  });
  return Array.from(rows.values()).sort((a, b) => a.f - b.f);
}

const tables = panels.map((row) => row.map(buildTable));

const colX = [[73, 246], [269, 444], [467, 642]];
const rowY = [[23, 151], [174, 303], [325, 455]];

const frame = '#a3a3a3';
const tickFont = '"Liberation Sans", Arial, sans-serif';
const serif = '"Liberation Serif", "Times New Roman", serif';
const ink = '#262626';

const expOf = (v: number) => Math.round(Math.log10(v));

const Pow = ({ x, y, v, anchor }: { x: number; y: number; v: number; anchor: 'middle' | 'end' }) => (
  <text x={x} y={y} textAnchor={anchor} fontFamily={tickFont} fontSize={12} fill={ink}>
    10<tspan dy={-5} fontSize={8}>{expOf(v)}</tspan>
  </text>
);

const bottomTick = (label: boolean) => (p: any) => {
  const v = p.payload.value;
  return (
    <g>
      <line x1={p.x} x2={p.x} y1={p.y} y2={p.y - 3} stroke={frame} />
      {label && (v === 10 || v === 100) && <Pow x={p.x} y={p.y + 17} v={v} anchor="middle" />}
    </g>
  );
};
const topTick = (p: any) => <line x1={p.x} x2={p.x} y1={p.y} y2={p.y + 3} stroke={frame} />;
const leftTick = (label: boolean) => (p: any) => {
  const v = p.payload.value;
  const k = expOf(v);
  return (
    <g>
      <line x1={p.x} x2={p.x + 3} y1={p.y} y2={p.y} stroke={frame} />
      {label && (k === 3 || k === -2 || k === -7) && <Pow x={p.x - 3} y={p.y + 4.5} v={v} anchor="end" />}
    </g>
  );
};
const rightTick = (p: any) => <line x1={p.x} x2={p.x - 3} y1={p.y} y2={p.y} stroke={frame} />;

const LW = 45;
const RW = 4;
const TH = 4;
const BH = 26;
const MT = 10;
const MR = 12;

function Panel({ r, c }: { r: number; c: number }) {
  const [x0, x1] = colX[c];
  const [y0, y1] = rowY[r];
  const W = LW + (x1 - x0) + RW + MR;
  const H = MT + TH + (y1 - y0) + BH;
  return (
    <div style={{ position: 'absolute', left: x0 - LW, top: y0 - TH - MT }}>
      <LineChart width={W} height={H} data={tables[r][c]} margin={{ top: MT, right: MR, bottom: 0, left: 0 }}>
        <XAxis xAxisId="b" dataKey="f" type="number" scale="log" domain={[10, 100]} allowDataOverflow ticks={xTicks}
          interval={0} tickSize={0} tickMargin={0} tickLine={false} axisLine={{ stroke: frame }} height={BH}
          tick={bottomTick(r === 2)} />
        <XAxis xAxisId="t" orientation="top" dataKey="f" type="number" scale="log" domain={[10, 100]} allowDataOverflow
          ticks={xTicks} interval={0} tickSize={0} tickMargin={0} tickLine={false} axisLine={{ stroke: frame }} height={TH}
          tick={topTick} />
        <YAxis yAxisId="l" type="number" scale="log" domain={[1e-7, 1e3]} allowDataOverflow ticks={yTicks} interval={0}
          tickSize={0} tickMargin={0} tickLine={false} axisLine={{ stroke: frame }} width={LW} tick={leftTick(c === 0)} />
        <YAxis yAxisId="r" orientation="right" type="number" scale="log" domain={[1e-7, 1e3]} allowDataOverflow
          ticks={yTicks} interval={0} tickSize={0} tickMargin={0} tickLine={false} axisLine={{ stroke: frame }} width={RW}
          tick={rightTick} />
        <ReferenceLine y={1e-2} xAxisId="b" yAxisId="l" stroke="#e6e6e6" strokeWidth={1} />
        {order.map((k) => (
          <Line key={k} xAxisId="b" yAxisId="l" dataKey={k} stroke={colors[k]} strokeWidth={widths[k]} dot={false}
            connectNulls isAnimationActive={false} strokeLinejoin="round" />
        ))}
      </LineChart>
    </div>
  );
}

function Labels() {
  return (
    <svg width={652} height={497} style={{ position: 'absolute', left: 0, top: 0, pointerEvents: 'none' }}>
      {inputs.map((name, c) => {
        const cx = (colX[c][0] + colX[c][1]) / 2;
        return (
          <g key={name}>
            <text x={cx} y={17} textAnchor="middle" fontFamily={serif} fontSize={15} fill="#000">
              <tspan fontWeight="bold">Input</tspan> {name}
            </text>
            <text x={cx} y={489} textAnchor="middle" fontFamily={serif} fontSize={14} fill={ink}>Frequency [Hz]</text>
          </g>
        );
      })}
      {outputs.map((name, r) => {
        const cy = (rowY[r][0] + rowY[r][1]) / 2;
        return (
          <g key={name}>
            <g transform={`translate(19.5, ${cy}) rotate(-90)`}>
              <text x={0} y={0} textAnchor="middle" fontFamily={serif} fontSize={15} fill="#000">
                <tspan fontWeight="bold">Output</tspan> {name}
              </text>
            </g>
            <g transform={`translate(35, ${cy}) rotate(-90)`} fontFamily={serif} fill={ink}>
              <text x={-33} y={0} fontSize={12}>Magnitude</text>
              <text x={22} y={1.5} fontSize={16}>[</text>
              <text x={31.5} y={-5} fontSize={8} textAnchor="middle">W</text>
              <line x1={27} x2={36} y1={-3.5} y2={-3.5} stroke={ink} strokeWidth={0.6} />
              <text x={31.5} y={3.5} fontSize={8} textAnchor="middle">V</text>
              <text x={37.5} y={1.5} fontSize={16}>]</text>
            </g>
          </g>
        );
      })}
    </svg>
  );
}

export default function App() {
  return (
    <div style={{ position: 'absolute', left: 0, top: 0, width: 652, height: 497, background: '#fff' }}>
      {[0, 1, 2].map((r) => [0, 1, 2].map((c) => <Panel key={`${r}-${c}`} r={r} c={c} />))}
      <Labels />
    </div>
  );
}
